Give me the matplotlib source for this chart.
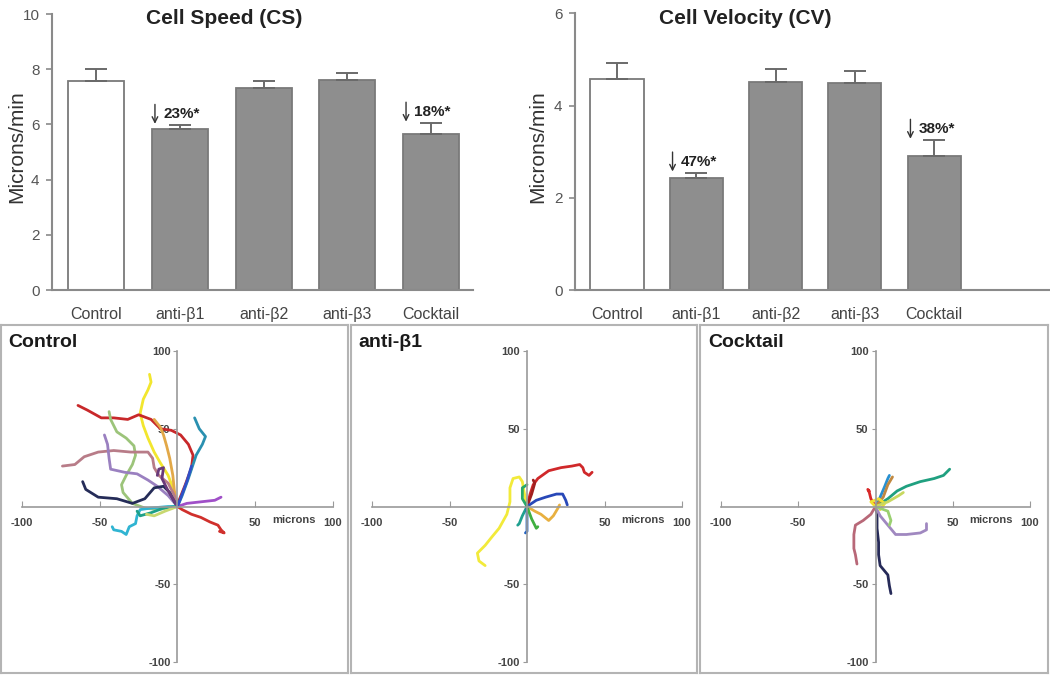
import matplotlib.pyplot as plt

plt.rcParams['font.family'] = ['Liberation Sans', 'DejaVu Sans']
plt.rcParams['axes.unicode_minus'] = False

# bar data
groups = ['Control', 'anti-β1', 'anti-β2', 'anti-β3', 'Cocktail']
speed = [7.58, 5.84, 7.32, 7.62, 5.66]
speed_err = [8.0, 5.97, 7.59, 7.88, 6.05]
velocity = [4.57, 2.44, 4.52, 4.50, 2.91]
velocity_err = [4.93, 2.54, 4.79, 4.74, 3.25]
speed_notes = {1: '23%*', 4: '18%*'}
velocity_notes = {1: '47%*', 4: '38%*'}

# trajectories (microns)
control_x = [
    [0, -3, -6, -11, -15, -19, -22, -24, -22, -19, -17, -18],
    [0, 1, 5, 9, 10, 7, 2, -4, -11, -17, -25, -32, -41, -49, -58, -64],
    [0, 3, 7, 10, 12, 16, 18, 14, 11],
    [0, -2, -3, -5, -7, -9, -11, -15],
    [0, -13, -21, -29, -35, -36, -33, -29, -27, -28, -33, -39, -43, -44],
    [0, -2, -6, -12, -15, -16, -19, -30, -41, -51, -60, -66, -74],
    [0, -6, -13, -19, -26, -34, -43, -44, -45, -47],
    [0, -2, -5, -9, -15, -21, -29, -39, -51, -59, -61],
    [0, 3, 9, 15, 21, 26, 28, 30, 27],
    [0, 6, 15, 24, 28],
    [0, -6, -17, -24, -26, -27, -31, -33, -36, -41, -42],
    [0, -9, -17, -24, -26],
    [0, -8, -15, -20],
    [0, -6, -10, -9, -12, -13],
    [0, 3, 6, 9],
]
control_y = [
    [0, 12, 20, 28, 35, 44, 52, 60, 69, 75, 80, 85],
    [0, 4, 14, 25, 33, 40, 46, 49, 50, 56, 59, 56, 57, 57, 62, 65],
    [0, 7, 18, 27, 33, 40, 45, 50, 57],
    [0, 10, 20, 31, 39, 46, 51, 56],
    [0, -2, -1, 2, 9, 14, 20, 27, 33, 39, 44, 48, 56, 61],
    [0, 7, 15, 20, 25, 31, 35, 35, 36, 35, 32, 27, 26],
    [0, 7, 13, 17, 21, 22, 24, 31, 40, 46],
    [0, 3, 9, 13, 12, 5, 2, 5, 6, 11, 16],
    [0, -2, -5, -7, -10, -12, -15, -17, -16],
    [0, 2, 3, 4, 6],
    [0, 0, -1, -2, -6, -11, -13, -18, -16, -15, -13],
    [0, -1, -4, -6, -3],
    [0, -3, -6, -5],
    [0, 10, 18, 25, 24, 20],
    [0, 8, 16, 26],
]
control_colors = ['#f2e62e', '#c8282a', '#2a90b0', '#e2a848', '#9cc47a', '#b87c88',
                  '#9a80c0', '#252c58', '#d0302c', '#a050c8', '#30b4d2', '#1ea088',
                  '#c8d870', '#6a3a7a', '#3050c8']

beta1_x = [
    [0, 2, 4, 7, 14, 22, 29, 34, 36, 37, 40, 42],
    [0, 3, 5, 4],
    [0, -2, -3, -5, -9, -11, -11, -13, -18, -23, -27, -32, -31, -27],
    [0, 6, 12, 19, 23, 25, 26],
    [0, 5, 9, 14, 17, 20, 21],
    [0, -3, -3, 0],
    [0, -3, -5, -6],
    [0, 0, 0, -1],
    [0, 3, 6, 7],
]
beta1_y = [
    [0, 8, 14, 18, 23, 25, 26, 27, 25, 22, 20, 22],
    [0, 8, 15, 17],
    [0, 10, 16, 19, 18, 12, 3, -5, -14, -20, -25, -30, -35, -38],
    [0, 4, 6, 8, 8, 4, 1],
    [0, -3, -5, -9, -6, -1, 1],
    [0, 5, 12, 14],
    [0, -6, -11, -12],
    [0, -10, -16, -17],
    [0, -8, -14, -13],
]
beta1_colors = ['#d0282a', '#a02020', '#f2ea3a', '#2848b8', '#e8b040', '#28a868',
                '#20a090', '#2060c0', '#40b040']

cocktail_x = [
    [0, 8, 14, 20, 29, 38, 44, 48],
    [0, 1, 1, 2, 2, 3, 8, 9, 10],
    [0, 3, 8, 13, 20, 29, 33, 33],
    [0, -3, -8, -13, -14, -14, -13, -12],
    [0, 3, 6, 8, 9],
    [0, 5, 8, 11],
    [0, -3, -4, -5, -4],
    [0, -3, 2, 6, 3],
    [0, 8, 10, 9],
    [0, 8, 15, 18],
]
cocktail_y = [
    [0, 5, 10, 13, 16, 18, 20, 24],
    [0, -5, -14, -23, -31, -38, -44, -51, -56],
    [0, -6, -12, -18, -18, -17, -15, -11],
    [0, -5, -9, -12, -18, -27, -31, -37],
    [0, 6, 13, 18, 20],
    [0, 6, 14, 19],
    [0, 5, 9, 11, 10],
    [0, 3, 5, 2, -2],
    [0, -3, -9, -12],
    [0, 3, 7, 9],
]
cocktail_colors = ['#20a080', '#262a58', '#a088c0', '#b86878', '#2890d0', '#c08840',
                   '#d82828', '#f0e030', '#9ad070', '#c8d860']

axis_gray = '#8a8a8a'
bar_gray = '#8e8e8e'

fig = plt.figure(figsize=(10.5, 6.77), dpi=100)


def bar_panel(rect, values, tops, notes, ymax, xmax, title, title_x, ylab_x):
    ax = fig.add_axes(rect)
    pos = list(range(len(groups)))
    faces = ['white'] + [bar_gray] * (len(groups) - 1)
    ax.bar(pos, values, width=0.67, color=faces, edgecolor='#7a7a7a', linewidth=1.3)
    up = [t - v for t, v in zip(tops, values)]
    ax.errorbar(pos, values, yerr=[[0] * len(values), up], fmt='none',
                ecolor='#6a6a6a', elinewidth=1.4, capsize=8, capthick=1.4)
    # percentage drop notes with down arrows
    for i, txt in notes.items():
        ax.annotate(txt, xy=(i - 0.2, tops[i]), xytext=(0, 8), textcoords='offset points',
                    ha='left', va='center', fontsize=11, fontweight='bold', color='#222')
        ax.annotate('', xy=(i - 0.3, tops[i]), xycoords='data',
                    xytext=(0, 15), textcoords='offset points',
                    arrowprops=dict(arrowstyle='->', color='#333', lw=1.0,
                                    shrinkA=0, shrinkB=1))
    ax.set_ylim(0, ymax)
    ax.set_xlim(-0.53, xmax)
    ax.set_yticks(range(0, ymax + 1, 2))
    ax.set_xticks(pos)
    ax.set_xticklabels(groups)
    for s in ['top', 'right']:
        ax.spines[s].set_visible(False)
    for s in ['left', 'bottom']:
        ax.spines[s].set_color(axis_gray)
        ax.spines[s].set_linewidth(1.5)
    ax.tick_params(axis='x', length=0, pad=12, labelsize=11.5, labelcolor='#444')
    ax.tick_params(axis='y', length=4, width=1.2, color=axis_gray, pad=5,
                   labelsize=11, labelcolor='#555')
    fig.text(title_x, 1 - 18 / 677, title, ha='center', va='center',
             fontsize=15, fontweight='bold', color='#222')
    fig.text(ylab_x, 1 - 147 / 677, 'Microns/min', ha='center', va='center',
             rotation=90, fontsize=15, color='#333')
    return ax


bar_panel([52 / 1050, 0.5716, 421 / 1050, 0.4077], speed, speed_err, speed_notes,
          10, 4.5, 'Cell Speed (CS)', 224 / 1050, 17 / 1050)
bar_panel([575 / 1050, 0.5716, 475 / 1050, 0.4087], velocity, velocity_err, velocity_notes,
          6, 5.46, 'Cell Velocity (CV)', 745 / 1050, 538 / 1050)


def track_panel(frame_rect, rect, xs, ys, colors, label):
    fr = fig.add_axes(frame_rect)
    fr.set_xticks([])
    fr.set_yticks([])
    for s in fr.spines.values():
        s.set_color('#b4b4b4')
        s.set_linewidth(1.5)
    fr.text(0.022, 0.95, label, transform=fr.transAxes, ha='left', va='center',
            fontsize=14, fontweight='bold', color='#1a1a1a')

    ax = fig.add_axes(rect)
    ax.patch.set_alpha(0)
    for x, y, c in zip(xs, ys, colors):
        ax.plot(x, y, color=c, lw=2.0, solid_capstyle='round')
    ax.set_xlim(-100, 100)
    ax.set_ylim(-100, 100)
    ax.spines['left'].set_position(('data', 0))
    ax.spines['bottom'].set_position(('data', 0))
    for s in ['top', 'right']:
        ax.spines[s].set_visible(False)
    for s in ['left', 'bottom']:
        ax.spines[s].set_color('#9a9a9a')
        ax.spines[s].set_linewidth(1.2)
    ticks = [-100, -50, 50, 100]
    ax.set_xticks(ticks)
    ax.set_yticks(ticks)
    ax.tick_params(axis='x', direction='in', length=4, color='#9a9a9a', pad=8,
                   labelsize=8, labelcolor='#444')
    ax.tick_params(axis='y', direction='out', length=3, color='#9a9a9a', pad=2,
                   labelsize=8, labelcolor='#444')
    for t in ax.get_xticklabels() + ax.get_yticklabels():
        t.set_fontweight('bold')
    ax.text(75, -9, 'microns', ha='center', va='center', fontsize=8,
            fontweight='bold', color='#444')


track_panel([0.001, 0.006, 0.330, 0.514], [22 / 1050, 15 / 677, 311 / 1050, 311 / 677],
            control_x, control_y, control_colors, 'Control')
track_panel([0.334, 0.006, 0.330, 0.514], [372 / 1050, 15 / 677, 310 / 1050, 311 / 677],
            beta1_x, beta1_y, beta1_colors, 'anti-β1')
track_panel([0.667, 0.006, 0.331, 0.514], [721 / 1050, 15 / 677, 309 / 1050, 311 / 677],
            cocktail_x, cocktail_y, cocktail_colors, 'Cocktail')

fig.savefig('out.png', dpi=100)
